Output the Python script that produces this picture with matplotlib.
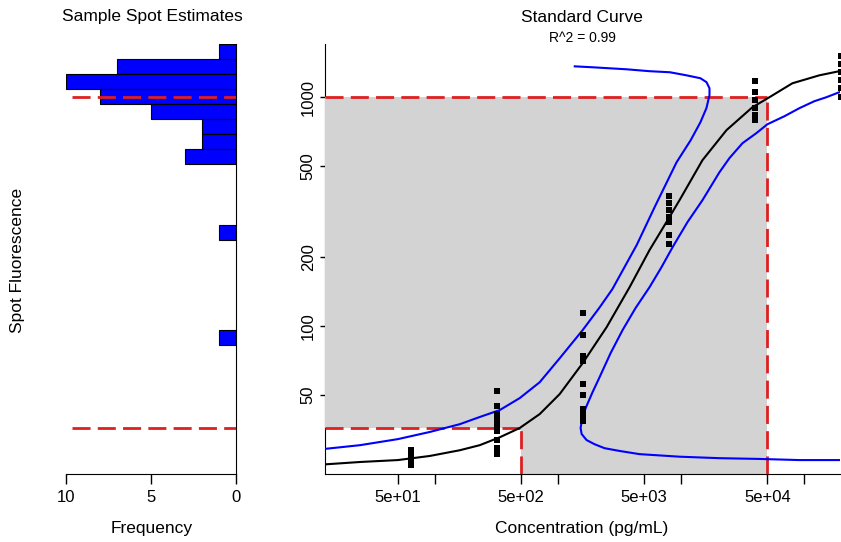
import matplotlib
matplotlib.use("Agg")
import matplotlib.pyplot as plt
from matplotlib.ticker import NullLocator
from matplotlib.patches import Polygon

plt.rcParams['font.family'] = ['Liberation Sans', 'DejaVu Sans']

# histogram of sample spot estimates (log-spaced bins)
hist_low = [1470, 1263, 1086, 933, 802, 690, 593, 510, 239, 83]
hist_high = [1709, 1470, 1263, 1086, 933, 802, 690, 593, 278, 96.5]
hist_count = [1, 7, 10, 8, 5, 2, 2, 3, 1, 1]

# standards: concentration and replicate fluorescence
std_conc = [64, 320, 1600, 8000, 40000, 200000]
std_fluor = [
    [28.7, 27.6, 26.5, 25.5, 24.7],
    [52.0, 44.8, 41.3, 38.9, 36.6, 34.8, 31.8, 29.3, 27.6],
    [114, 91.4, 74.0, 70.3, 55.8, 50.0, 43.4, 40.9, 38.4],
    [370, 345, 321, 299, 285, 250, 228],
    [1175, 1052, 970, 896, 834, 794],
    [1511, 1393, 1286, 1186, 1095, 1000],
]

# fitted standard curve
fit_conc = [12.8, 24.6, 50, 90.9, 159, 231, 336, 488, 709, 1030, 1582, 2477,
            3806, 5525, 7734, 9675, 14860, 23270, 37770, 51900, 79800, 132100, 191900]
fit_fluor = [24.9, 25.5, 26.0, 27.1, 28.7, 30.2, 32.7, 35.9, 41.3, 50.5, 68.9, 99.0,
             148, 215, 290, 355, 531, 718, 904, 1000, 1151, 1247, 1300]

# confidence bands
upper_conc = [12.8, 24.6, 50, 90.9, 159, 231, 336, 488, 709, 1030, 1582, 2155,
              2755, 4343, 6075, 9160, 11920, 14310, 16000, 16950, 16950, 16030,
              14310, 10950, 8100, 5520, 3600, 1910, 1365]
upper_fluor = [29.1, 30.2, 32.1, 34.5, 37.3, 40.1, 43.0, 48.5, 56.9, 72.4, 96.1, 120,
               145, 226, 331, 520, 649, 778, 896, 1021, 1095, 1164,
               1211, 1248, 1286, 1300, 1325, 1352, 1365]
lower_conc = [191900, 91000, 43050, 20400, 9675, 4580, 3152, 2383, 1976, 1702,
              1552, 1523, 1582, 1702, 1905, 2173, 2667, 3337, 4254, 5525, 6910,
              8490, 11240, 14860, 20400, 24600, 31400, 40700, 50000, 68700, 91000,
              120300, 150400, 191900]
lower_fluor = [26.0, 26.0, 26.3, 26.5, 26.9, 27.6, 28.5, 29.3, 30.5, 31.8,
               33.8, 35.9, 40.5, 44.8, 51.5, 59.9, 76.2, 96.1, 120, 148, 181,
               221, 285, 355, 470, 542, 630, 697, 762, 826, 896,
               961, 1000, 1052]

# limits of quantification
loq_conc = [500, 50000]
loq_fluor = [36, 1000]

y_range = (22.6, 1709)
x_range = (12.8, 194500)
red = '#dd2020'
dash = (6.5, 2.6)

fig = plt.figure(figsize=(8.41, 5.42), dpi=100)
W, H = 841, 542


def box(x0, y0, x1, y1):
    return [x0 / W, 1 - y1 / H, (x1 - x0) / W, (y1 - y0) / H]


# ---- left panel: histogram ----
ax1 = fig.add_axes(box(66, 44, 236, 474))
ax1.barh(hist_low, hist_count, height=[h - l for l, h in zip(hist_low, hist_high)],
         align='edge', color='blue', edgecolor='black', linewidth=0.8, zorder=2)
ax1.set_yscale('log')
ax1.set_ylim(*y_range)
ax1.set_xlim(10, 0)
for f in loq_fluor:
    ax1.plot([9.65, 0], [f, f], color=red, lw=2, dashes=dash, zorder=3)
ax1.spines['top'].set_visible(False)
ax1.spines['left'].set_visible(False)
ax1.yaxis.set_major_locator(NullLocator())
ax1.yaxis.set_minor_locator(NullLocator())
ax1.set_xticks([10, 5, 0])
ax1.set_xticklabels(['10', '5', '0'])
ax1.tick_params(axis='x', length=7.2, width=1, labelsize=12, pad=4)

# ---- right panel: standard curve ----
ax2 = fig.add_axes(box(325, 44, 840, 474))
ax2.set_xscale('log')
ax2.set_yscale('log')
ax2.set_xlim(*x_range)
ax2.set_ylim(*y_range)

x0, y0 = x_range[0], y_range[0]
gray = Polygon([(x0, loq_fluor[0]), (x0, loq_fluor[1]), (loq_conc[1], loq_fluor[1]),
                (loq_conc[1], y0), (loq_conc[0], y0), (loq_conc[0], loq_fluor[0])],
               closed=True, facecolor='#d3d3d3', edgecolor='none', zorder=2.6)
ax2.add_patch(gray)

for c, f in zip(loq_conc, loq_fluor):
    ax2.plot([x0, c], [f, f], color=red, lw=2, dashes=dash, zorder=3)
    ax2.plot([c, c], [y0, f], color=red, lw=2, dashes=dash, zorder=3)

ax2.plot(upper_conc, upper_fluor, color='blue', lw=1.5, zorder=4)
ax2.plot(lower_conc, lower_fluor, color='blue', lw=1.5, zorder=4)
ax2.plot(fit_conc, fit_fluor, color='black', lw=1.5, zorder=4)

pts_x = [c for c, fl in zip(std_conc, std_fluor) for _ in fl]
pts_y = [v for fl in std_fluor for v in fl]
ax2.plot(pts_x, pts_y, linestyle='none', marker='s', markersize=4,
         markeredgewidth=0, color='black', zorder=5)

ax2.spines['top'].set_visible(False)
ax2.spines['right'].set_visible(False)
ax2.spines['bottom'].set_zorder(2.7)

ax2.xaxis.set_minor_locator(NullLocator())
ax2.yaxis.set_minor_locator(NullLocator())
ax2.set_xticks([50, 100, 500, 1000, 5000, 10000, 50000, 100000])
ax2.set_xticklabels(['5e+01', '', '5e+02', '', '5e+03', '', '5e+04', ''])
ax2.set_yticks([50, 100, 200, 500, 1000])
ax2.set_yticklabels(['50', '100', '200', '500', '1000'], rotation=90, va='center')
ax2.tick_params(axis='x', length=7.2, width=1, labelsize=12, pad=4)
ax2.tick_params(axis='y', length=3.6, width=1, labelsize=12, pad=3)

# ---- text ----
fig.text(152 / W, 1 - 17 / H, 'Sample Spot Estimates', ha='center', va='center', fontsize=12.5)
fig.text(582 / W, 1 - 17 / H, 'Standard Curve', ha='center', va='center', fontsize=12.5)
fig.text(582 / W, 1 - 38 / H, 'R^2 = 0.99', ha='center', va='center', fontsize=10)
fig.text(152 / W, 1 - 528 / H, 'Frequency', ha='center', va='center', fontsize=12.5)
fig.text(582 / W, 1 - 528 / H, 'Concentration (pg/mL)', ha='center', va='center', fontsize=12.5)
fig.text(18 / W, 1 - 260 / H, 'Spot Fluorescence', ha='center', va='center',
         rotation=90, fontsize=12.5)

fig.savefig('out.png', dpi=100)
